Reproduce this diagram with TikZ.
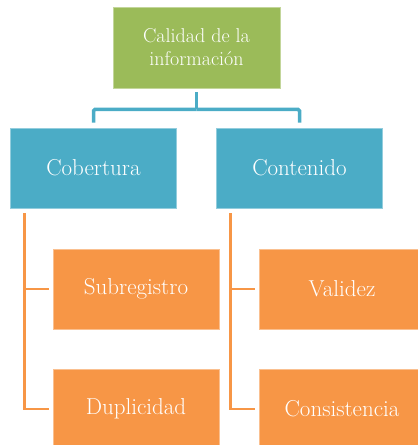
\documentclass[tikz,border=0pt]{standalone}
\usepackage{fontspec}
\usepackage{tikz}
\usetikzlibrary{positioning}
\definecolor{calgreen}{HTML}{9BBB59}
\definecolor{calblue}{HTML}{4BACC6}
\definecolor{calorange}{HTML}{F79646}
\begin{document}
\begin{tikzpicture}[x=1pt,y=1pt]
	\tikzstyle{every node}+=[inner sep=0pt, text=white, align=center]
	\tikzstyle{box}=[draw=white!40!#1, line width=0.6pt, fill=#1, minimum width=166pt, minimum height=80pt]
	\tikzstyle{bigtext}=[font=\fontsize{23}{27}\selectfont]
	\tikzstyle{blueline}=[draw=calblue, line width=3.5pt, rounded corners=1.5pt]
	\tikzstyle{orangeline}=[draw=calorange, line width=2.6pt]
	\clip (0,0) rectangle (418,-445);
	\useasboundingbox (0,0) rectangle (418,-445);
	\node [box=calgreen, minimum width=167pt, minimum height=81pt, font=\fontsize{20}{23}\selectfont] (calidad) at (196.5,-47.5) {Calidad de la\\informaci\'on};
	\node [box=calblue, bigtext] (cob) at (93.5,-168) {Cobertura};
	\node [box=calblue, bigtext] (cont) at (299.5,-168) {Contenido};
	\node [box=calorange, bigtext] (sub) at (136,-289) {Subregistro};
	\node [box=calorange, bigtext] (val) at (342,-289) {Validez};
	\node [box=calorange, bigtext] (dup) at (136,-409) {Duplicidad};
	\node [box=calorange, bigtext] (cons) at (342,-409) {Consistencia};
	% top level
	\coordinate (hub) at ([yshift=-21pt]calidad.south);
	\draw [blueline, shorten <=4pt] (calidad.south) -- (hub);
	\draw [blueline, shorten >=5pt] (hub) -| (cob.north);
	\draw [blueline, shorten >=5pt] (hub) -| (cont.north);
	% second level
	\coordinate (cobtop) at ([xshift=14pt, yshift=-5pt]cob.south west);
	\coordinate (conttop) at ([xshift=14pt, yshift=-5pt]cont.south west);
	\draw [orangeline, shorten >=4pt] (cobtop) |- (sub.west);
	\draw [orangeline, shorten >=4pt] (cobtop) |- (dup.west);
	\draw [orangeline, shorten >=4pt] (conttop) |- (val.west);
	\draw [orangeline, shorten >=4pt] (conttop) |- (cons.west);
\end{tikzpicture}
\end{document}
